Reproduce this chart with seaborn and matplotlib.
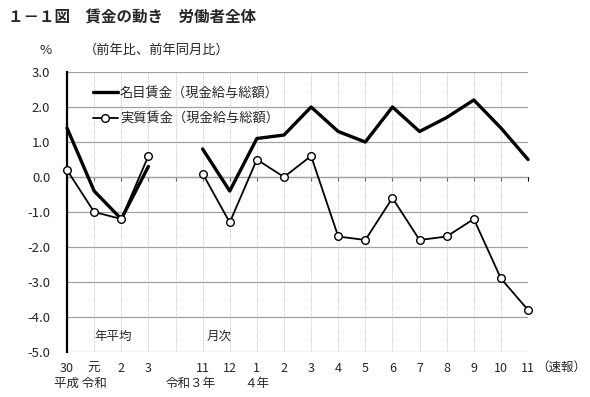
import numpy as np
import pandas as pd
import matplotlib
matplotlib.use("Agg")
import matplotlib.pyplot as plt
import matplotlib.transforms as mtransforms
from matplotlib.lines import Line2D
import seaborn as sns

# 年平均 (平成30, 令和元, 2, 3)
annual_labels = ["30", "元", "2", "3"]
annual_nominal = [1.4, -0.4, -1.2, 0.3]
annual_real = [0.2, -1.0, -1.2, 0.6]

# 月次 (令和3年11月 ～ 令和4年11月)
month_labels = ["11", "12", "1", "2", "3", "4", "5", "6", "7", "8", "9", "10", "11"]
month_nominal = [0.8, -0.4, 1.1, 1.2, 2.0, 1.3, 1.0, 2.0, 1.3, 1.7, 2.2, 1.4, 0.5]
month_real = [0.1, -1.3, 0.5, 0.0, 0.6, -1.7, -1.8, -0.6, -1.8, -1.7, -1.2, -2.9, -3.8]

tick_labels = annual_labels + [""] + month_labels
x_annual = np.arange(len(annual_labels))
x_month = np.arange(len(month_labels)) + len(annual_labels) + 1

df_a = pd.DataFrame({"x": x_annual, "nominal": annual_nominal, "real": annual_real})
df_m = pd.DataFrame({"x": x_month, "nominal": month_nominal, "real": month_real})

sns.set_style("white")
plt.rcParams['font.family'] = ['Noto Sans CJK JP', 'DejaVu Sans']
fs = 9

fig = plt.figure(figsize=(5.9, 3.97), dpi=100)
ax = fig.add_axes([0.1136, 0.1134, 0.895 - 0.1136, 0.8186 - 0.1134])

for d in (df_a, df_m):
    sns.lineplot(data=d, x="x", y="nominal", ax=ax, color="black", linewidth=2.4,
                 zorder=4, clip_on=False)
    sns.lineplot(data=d, x="x", y="real", ax=ax, color="black", linewidth=1.3,
                 marker="o", markersize=5.5, markerfacecolor="white",
                 markeredgecolor="black", markeredgewidth=1.0, zorder=5,
                 clip_on=False)

ax.set_xlim(0, len(tick_labels) - 1)
ax.set_ylim(-5, 3)
ax.set_yticks(np.arange(-5, 4, 1))
ax.set_yticklabels([f"{v:.1f}" for v in np.arange(-5, 4, 1)], fontsize=9.5)
ax.set_xticks(np.arange(len(tick_labels)))
ax.set_xticklabels(tick_labels, fontsize=fs)
ax.tick_params(axis="x", length=0, pad=7)
ax.tick_params(axis="y", length=0, pad=12)
ax.set_xlabel("")
ax.set_ylabel("")

# grid
for v in range(-5, 4):
    ax.axhline(v, color="#a0a0a0", linewidth=0.9, zorder=1)
for v in range(len(tick_labels)):
    ax.axvline(v, color="#c8c8c8", linewidth=0.7, linestyle=(0, (1, 1)), zorder=1)

for s in ["top", "right", "bottom"]:
    ax.spines[s].set_visible(False)
ax.spines["left"].set_color("black")
ax.spines["left"].set_linewidth(1.6)

# zero line with ticks
zax = ax.secondary_xaxis(5 / 8)
zax.set_xticks(np.arange(len(tick_labels)))
zax.set_xticklabels([])
zax.tick_params(axis="x", direction="out", length=3, width=0.8, colors="black")
zax.spines["bottom"].set_linewidth(1.3)
zax.spines["bottom"].set_color("black")
zax.xaxis.set_ticks_position("bottom")

# second row of x labels
tr = mtransforms.blended_transform_factory(ax.transData, ax.transAxes)
ax.text(0.5, -0.112, "平成 令和", transform=tr, ha="center", va="center", fontsize=fs)
ax.text(x_month[0] - 0.45, -0.112, "令和３年", transform=tr, ha="center", va="center", fontsize=fs)
ax.text(x_month[2], -0.112, "４年", transform=tr, ha="center", va="center", fontsize=fs)
ax.text(x_month[-1] + 0.3, -0.054, "（速報）", transform=tr, ha="left", va="center", fontsize=fs)

ax.text(1.7, 0.055, "年平均", transform=tr, ha="center", va="center", fontsize=fs)
ax.text(x_month[0] + 0.6, 0.055, "月次", transform=tr, ha="center", va="center", fontsize=fs)

# legend
handles = [
    Line2D([], [], color="black", linewidth=2.4),
    Line2D([], [], color="black", linewidth=1.3, marker="o", markersize=5.5,
           markerfacecolor="white", markeredgecolor="black"),
]
ax.legend(handles, ["名目賃金（現金給与総額）", "実質賃金（現金給与総額）"],
          loc="upper left", bbox_to_anchor=(0.03, 0.99), frameon=False,
          fontsize=9.5, handlelength=1.9, handletextpad=0.15, labelspacing=0.95)

fig.text(0.014, 0.955, "１－１図　賃金の動き　労働者全体", fontsize=11.2,
         fontweight="bold", ha="left", va="center")
fig.text(0.078, 0.873, "%", fontsize=9.5, ha="center", va="center")
fig.text(0.142, 0.873, "（前年比、前年同月比）", fontsize=9.5, ha="left", va="center")

fig.savefig("out.png", dpi=100)
